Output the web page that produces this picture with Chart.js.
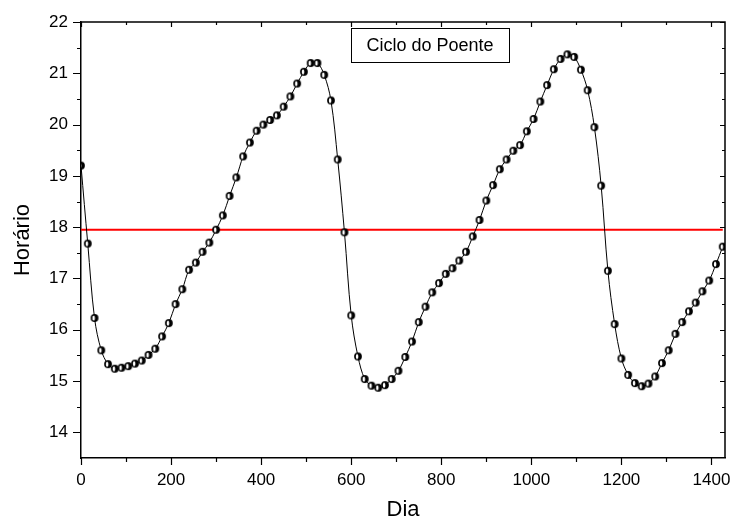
<!DOCTYPE html>
<html>
<head>
<meta charset="utf-8">
<script src="https://cdn.jsdelivr.net/npm/chart.js@4.4.0/dist/chart.umd.min.js"></script>
<style>
html, body { margin: 0; padding: 0; background: #fff; }
</style>
</head>
<body>
<canvas id="canvas" width="733" height="523"></canvas>
<script>
// eixo X: dia
var dias = [0, 15, 30, 45, 60, 75, 90, 105, 120, 135, 150, 165, 180, 195, 210, 225,
    240, 255, 270, 285, 300, 315, 330, 345, 360, 375, 390, 405, 420, 435, 450, 465,
    480, 495, 510, 525, 540, 555, 570, 585, 600, 615, 630, 645, 660, 675, 690, 705,
    720, 735, 750, 765, 780, 795, 810, 825, 840, 855, 870, 885, 900, 915, 930, 945,
    960, 975, 990, 1005, 1020, 1035, 1050, 1065, 1080, 1095, 1110, 1125, 1140, 1155,
    1170, 1185, 1200, 1215, 1230, 1245, 1260, 1275, 1290, 1305, 1320, 1335, 1350,
    1365, 1380, 1395, 1410, 1425];

// eixo Y: horario do poente
var horario = [19.20, 17.68, 16.23, 15.60, 15.33, 15.24, 15.26, 15.29, 15.34, 15.40,
    15.51, 15.63, 15.87, 16.13, 16.50, 16.79, 17.17, 17.31, 17.52, 17.70, 17.95,
    18.23, 18.61, 18.97, 19.38, 19.65, 19.88, 20.00, 20.09, 20.18, 20.35, 20.55,
    20.80, 21.03, 21.20, 21.20, 20.97, 20.47, 19.32, 17.90, 16.28, 15.48, 15.04,
    14.91, 14.87, 14.92, 15.04, 15.20, 15.47, 15.77, 16.15, 16.45, 16.73, 16.91,
    17.09, 17.20, 17.35, 17.52, 17.82, 18.14, 18.52, 18.82, 19.13, 19.32, 19.49,
    19.60, 19.87, 20.11, 20.45, 20.77, 21.08, 21.28, 21.37, 21.32, 21.07, 20.67,
    19.95, 18.81, 17.15, 16.11, 15.44, 15.12, 14.96, 14.90, 14.95, 15.09, 15.35,
    15.60, 15.92, 16.15, 16.36, 16.53, 16.75, 16.96, 17.28, 17.62];

// linha vermelha (media)
var mediaDias = [0, 1425];
var mediaHorario = [17.95, 17.95];

// rotulos dos eixos
var xTicks = [0, 200, 400, 600, 800, 1000, 1200, 1400];
var yTicks = [14, 15, 16, 17, 18, 19, 20, 21, 22];

var fonte = "'Liberation Sans', Arial, sans-serif";
Chart.defaults.font.family = fonte;
Chart.defaults.color = '#000';

// bolinha meio preenchida
function bolinha() {
    var c = document.createElement('canvas');
    c.width = 10; c.height = 10;
    var g = c.getContext('2d');
    g.fillStyle = '#000';
    g.beginPath(); g.arc(5, 5, 3.9, 0, Math.PI * 2); g.fill();
    g.fillStyle = '#fff';
    g.beginPath(); g.ellipse(4.1, 5.1, 1.3, 2.6, 0, 0, Math.PI * 2); g.fill();
    return c;
}

function pares(xs, ys) {
    return xs.map(function (x, i) { return { x: x, y: ys[i] }; });
}

// moldura, tracos dos eixos e caixa de texto
var moldura = {
    id: 'moldura',
    afterDraw: function (chart) {
        var ctx = chart.ctx, a = chart.chartArea;
        var sx = chart.scales.x, sy = chart.scales.y;
        ctx.save();
        ctx.strokeStyle = '#000';
        ctx.lineWidth = 1.5;
        ctx.beginPath();
        ctx.moveTo(a.left, a.top); ctx.lineTo(a.right, a.top); ctx.lineTo(a.right, a.bottom);
        ctx.stroke();

        ctx.lineWidth = 1.2;
        ctx.beginPath();
        for (var v = 0; v <= 1400; v += 100) {
            var px = Math.round(sx.getPixelForValue(v)) + 0.5;
            var maior = xTicks.indexOf(v) >= 0;
            ctx.moveTo(px, a.bottom); ctx.lineTo(px, a.bottom + (maior ? 7 : 4));
            ctx.moveTo(px, a.top); ctx.lineTo(px, a.top + (maior ? 5 : 3));
        }
        for (var w = 14; w <= 22; w += 0.5) {
            var py = Math.round(sy.getPixelForValue(w)) + 0.5;
            var maiorY = yTicks.indexOf(w) >= 0;
            ctx.moveTo(a.left, py); ctx.lineTo(a.left - (maiorY ? 8 : 4), py);
            ctx.moveTo(a.right, py); ctx.lineTo(a.right - (maiorY ? 5 : 3), py);
        }
        ctx.stroke();

        // caixa "Ciclo do Poente"
        var bx1 = sx.getPixelForValue(600), bx2 = sx.getPixelForValue(950);
        var by1 = sy.getPixelForValue(21.89), by2 = sy.getPixelForValue(21.23);
        ctx.lineWidth = 1;
        ctx.fillStyle = '#fff';
        ctx.fillRect(bx1, by1, bx2 - bx1, by2 - by1);
        ctx.strokeRect(Math.round(bx1) + 0.5, Math.round(by1) + 0.5, Math.round(bx2 - bx1), Math.round(by2 - by1));
        ctx.fillStyle = '#000';
        ctx.font = '18px ' + fonte;
        ctx.textAlign = 'center';
        ctx.textBaseline = 'middle';
        ctx.fillText('Ciclo do Poente', (bx1 + bx2) / 2, (by1 + by2) / 2 + 1);
        ctx.restore();
    }
};

var ctx = document.getElementById('canvas');
var grafico = new Chart(ctx, {
    type: 'line',
    data: {
        datasets: [
            {
                label: 'Horário',
                data: pares(dias, horario),
                borderColor: '#000',
                borderWidth: 1,
                tension: 0.35,
                pointStyle: bolinha(),
                pointRadius: 4,
                fill: false
            },
            {
                label: 'Média',
                data: pares(mediaDias, mediaHorario),
                borderColor: '#ff0000',
                borderWidth: 2,
                pointRadius: 0,
                fill: false
            }
        ]
    },
    options: {
        responsive: false,
        animation: false,
        layout: { padding: { top: 22, right: 8, left: 0, bottom: 0 } },
        plugins: {
            legend: { display: false },
            tooltip: { enabled: false }
        },
        scales: {
            x: {
                type: 'linear',
                min: 0,
                max: 1430,
                grid: { display: false, drawTicks: false },
                border: { display: true, color: '#000', width: 1.5 },
                ticks: {
                    stepSize: 100,
                    includeBounds: false,
                    autoSkip: false,
                    maxRotation: 0,
                    padding: 12,
                    font: { size: 17 },
                    callback: function (v) { return xTicks.indexOf(v) >= 0 ? String(v) : ''; }
                },
                title: { display: true, text: 'Dia', font: { size: 22 }, padding: 0 },
                afterFit: function (s) {
                    s.height = 65;
                    s.paddingLeft = 0;
                    s.paddingRight = 0;
                }
            },
            y: {
                min: 13.5,
                max: 22,
                grid: { display: false, drawTicks: false },
                border: { display: true, color: '#000', width: 1.5 },
                ticks: {
                    stepSize: 0.5,
                    autoSkip: false,
                    padding: 13,
                    font: { size: 17 },
                    callback: function (v) { return yTicks.indexOf(v) >= 0 ? String(v) : ''; }
                },
                title: { display: true, text: 'Horário', font: { size: 22 }, padding: { top: 10 } },
                afterFit: function (s) {
                    s.width = 81;
                    s.paddingTop = 0;
                    s.paddingBottom = 0;
                }
            }
        }
    },
    plugins: [moldura]
});
</script>
</body>
</html>
